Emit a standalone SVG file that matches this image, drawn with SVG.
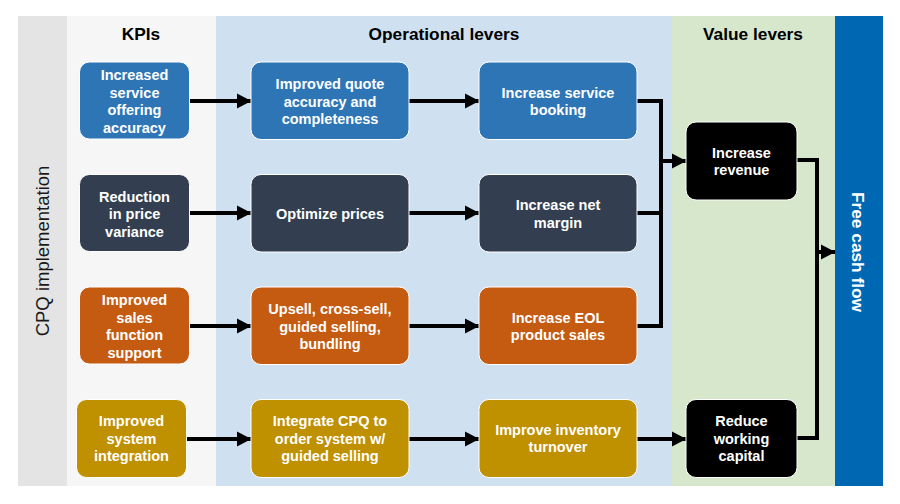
<svg xmlns="http://www.w3.org/2000/svg" width="900" height="504" viewBox="0 0 900 504">
<defs>
<style>
.nd{stroke:#ffffff;stroke-width:1;}
.t{font-family:"Liberation Sans",Arial,sans-serif;font-weight:bold;font-size:14.5px;fill:#ffffff;text-anchor:middle;}
.h{font-family:"Liberation Sans",Arial,sans-serif;font-weight:bold;font-size:17.3px;fill:#000000;text-anchor:middle;}
.c{fill:none;stroke:#000000;stroke-width:4;}
.blue{fill:#2e75b6;}
.slate{fill:#333f50;}
.orange{fill:#c55a11;}
.gold{fill:#bf9000;}
.black{fill:#000000;}
</style>
<marker id="ah" markerWidth="4" markerHeight="4" refX="3.5" refY="2" orient="auto" markerUnits="strokeWidth" viewBox="0 0 4 4">
<path d="M0,0.15 L3.6,2 L0,3.85 Z" fill="#000000"/>
</marker>
</defs>
<rect width="900" height="504" fill="#ffffff"/>
<g id="panels">
<rect x="18" y="16" width="49" height="470" fill="#e4e4e4"/>
<rect x="67" y="16" width="149" height="470" fill="#f6f6f6"/>
<rect x="216" y="16" width="456" height="470" fill="#cfe0f1"/>
<rect x="672" y="16" width="163" height="470" fill="#d6e7cb"/>
<rect x="835" y="16" width="48" height="470" fill="#0068b3"/>
<text class="h" x="141" y="40">KPIs</text>
<text class="h" x="444" y="40">Operational levers</text>
<text class="h" x="753" y="40">Value levers</text>
<text x="42" y="251" transform="rotate(-90 42 251)" font-family="'Liberation Sans',Arial,sans-serif" font-size="18.5" fill="#1a1a1a" text-anchor="middle" dominant-baseline="central">CPQ implementation</text>
<text x="858" y="252" transform="rotate(90 858 252)" font-family="'Liberation Sans',Arial,sans-serif" font-size="17.3" font-weight="bold" fill="#ffffff" text-anchor="middle" dominant-baseline="central">Free cash flow</text>
</g>
<g id="connectors">
<line class="c" x1="190" y1="101" x2="251" y2="101" marker-end="url(#ah)"/>
<line class="c" x1="409" y1="101" x2="479" y2="101" marker-end="url(#ah)"/>
<line class="c" x1="190" y1="213" x2="251" y2="213" marker-end="url(#ah)"/>
<line class="c" x1="409" y1="213" x2="479" y2="213" marker-end="url(#ah)"/>
<line class="c" x1="190" y1="326" x2="251" y2="326" marker-end="url(#ah)"/>
<line class="c" x1="409" y1="326" x2="479" y2="326" marker-end="url(#ah)"/>
<line class="c" x1="186" y1="439" x2="251" y2="439" marker-end="url(#ah)"/>
<line class="c" x1="409" y1="439" x2="479" y2="439" marker-end="url(#ah)"/>
<line class="c" x1="637" y1="439" x2="686" y2="439" marker-end="url(#ah)"/>
<path class="c" d="M637,101 H661 V326 H637"/>
<line class="c" x1="637" y1="213" x2="661" y2="213"/>
<line class="c" x1="661" y1="161" x2="686" y2="161" marker-end="url(#ah)"/>
<path class="c" d="M797,160 H817 V438 H797"/>
<line class="c" x1="817" y1="252" x2="835" y2="252" marker-end="url(#ah)"/>
</g>
<g id="kpi1"><rect class="nd blue" x="79.5" y="62" width="110" height="77" rx="10"/>
<text class="t" x="134.5" y="80">Increased</text><text class="t" x="134.5" y="97.5">service</text><text class="t" x="134.5" y="115">offering</text><text class="t" x="134.5" y="132.5">accuracy</text></g>
<g id="kpi2"><rect class="nd slate" x="79.5" y="174.5" width="110" height="77" rx="10"/>
<text class="t" x="134.5" y="201.5">Reduction</text><text class="t" x="134.5" y="219">in price</text><text class="t" x="134.5" y="236.5">variance</text></g>
<g id="kpi3"><rect class="nd orange" x="79.5" y="287" width="110" height="77" rx="10"/>
<text class="t" x="134.5" y="305">Improved</text><text class="t" x="134.5" y="322.5">sales</text><text class="t" x="134.5" y="340">function</text><text class="t" x="134.5" y="357.5">support</text></g>
<g id="kpi4"><rect class="nd gold" x="76.5" y="399.5" width="110" height="78" rx="10"/>
<text class="t" x="131.5" y="426">Improved</text><text class="t" x="131.5" y="443.5">system</text><text class="t" x="131.5" y="461">integration</text></g>
<g id="op1a"><rect class="nd blue" x="251" y="62" width="158" height="77.5" rx="10"/>
<text class="t" x="330" y="89">Improved quote</text><text class="t" x="330" y="106.5">accuracy and</text><text class="t" x="330" y="124">completeness</text></g>
<g id="op1b"><rect class="nd blue" x="479" y="62" width="158" height="77.5" rx="10"/>
<text class="t" x="558" y="97.5">Increase service</text><text class="t" x="558" y="115">booking</text></g>
<g id="op2a"><rect class="nd slate" x="251" y="174.5" width="158" height="77.5" rx="10"/>
<text class="t" x="330" y="218.5">Optimize prices</text></g>
<g id="op2b"><rect class="nd slate" x="479" y="174.5" width="158" height="77.5" rx="10"/>
<text class="t" x="558" y="210">Increase net</text><text class="t" x="558" y="227.5">margin</text></g>
<g id="op3a"><rect class="nd orange" x="251" y="287" width="158" height="77.5" rx="10"/>
<text class="t" x="330" y="314">Upsell, cross-sell,</text><text class="t" x="330" y="331.5">guided selling,</text><text class="t" x="330" y="349">bundling</text></g>
<g id="op3b"><rect class="nd orange" x="479" y="287" width="158" height="77.5" rx="10"/>
<text class="t" x="558" y="322.5">Increase EOL</text><text class="t" x="558" y="340">product sales</text></g>
<g id="op4a"><rect class="nd gold" x="251" y="399.5" width="158" height="78" rx="10"/>
<text class="t" x="330" y="426">Integrate CPQ to</text><text class="t" x="330" y="443.5">order system w/</text><text class="t" x="330" y="461">guided selling</text></g>
<g id="op4b"><rect class="nd gold" x="479" y="399.5" width="158" height="78" rx="10"/>
<text class="t" x="558" y="434.5">Improve inventory</text><text class="t" x="558" y="452">turnover</text></g>
<g id="val1"><rect class="nd black" x="686" y="122" width="111" height="78" rx="10"/>
<text class="t" x="741.5" y="157.5">Increase</text><text class="t" x="741.5" y="175">revenue</text></g>
<g id="val2"><rect class="nd black" x="686" y="399.5" width="111" height="78" rx="10"/>
<text class="t" x="741.5" y="426">Reduce</text><text class="t" x="741.5" y="443.5">working</text><text class="t" x="741.5" y="461">capital</text></g>
</svg>
